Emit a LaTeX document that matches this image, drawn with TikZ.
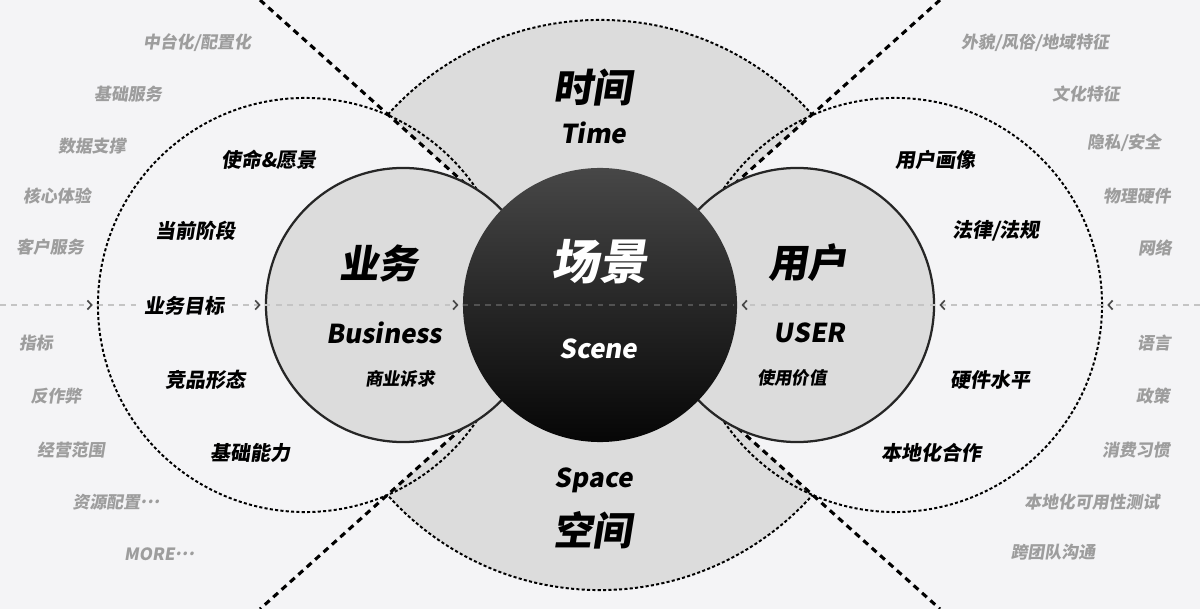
\documentclass[tikz,border=0pt]{standalone}
\usepackage{fontspec}
\usetikzlibrary{arrows.meta}
\newfontfamily\zh{Noto Sans CJK SC}
\newcommand{\midots}{\raisebox{0.3em}{.\kern0.04em.\kern0.04em.}}
\definecolor{bgcol}{HTML}{F4F4F6}
\definecolor{fillgray}{HTML}{DCDCDC}
\definecolor{labelgray}{HTML}{9D9D9D}
\definecolor{axisgray}{HTML}{C4C4C4}
\definecolor{tipgray}{HTML}{4A4A4A}
\definecolor{coretop}{HTML}{474747}
\definecolor{corebot}{HTML}{060606}

\tikzset{
  ring/.style={circle, draw=black, line width=1.4pt, dash pattern=on 2.2pt off 1.6pt, minimum size=10.35cm},
  side/.style={circle, draw=black!85, line width=1.6pt, fill=fillgray, minimum size=6.85cm},
  core/.style={circle, top color=coretop, bottom color=corebot, minimum size=6.85cm},
  crossline/.style={line width=2.2pt, dash pattern=on 4.5pt off 3.5pt},
  arcline/.style={line width=1.4pt, dash pattern=on 2.2pt off 1.6pt},
  axis/.style={draw=axisgray, line width=0.9pt, dash pattern=on 4pt off 4pt, shorten >=3pt,
    -{Straight Barb[length=3pt, width=6.5pt, line width=1.2pt, color=tipgray]}},
  lean/.style={xslant=0.16},
  bigzh/.style={lean, font=\zh\bfseries\fontsize{28}{30}\selectfont},
  corezh/.style={lean, font=\zh\bfseries\fontsize{34}{36}\selectfont, text=white},
  entext/.style={lean, font=\zh\bfseries\fontsize{18.5}{20}\selectfont},
  subzh/.style={lean, font=\zh\bfseries\fontsize{12.4}{14}\selectfont},
  ringlabel/.style={lean, font=\zh\bfseries\fontsize{14.2}{16}\selectfont},
  farlabel/.style={lean, font=\zh\bfseries\fontsize{12}{14}\selectfont, text=labelgray}
}

\begin{document}
\begin{tikzpicture}[x=0.025cm, y=-0.025cm]
\useasboundingbox (0,0) rectangle (1200,609);
\fill[bgcol] (0,0) rectangle (1200,609);

% ends of the cross
\coordinate (tl) at (260,0);
\coordinate (tr) at (940,0);
\coordinate (bl) at (260,609);
\coordinate (br) at (940,609);

% time and space sectors
\begin{scope}
  \clip (tl) -- (tr) -- (bl) -- (br) -- cycle;
  \fill[fillgray] (600,305) circle[radius=7.125cm];
  \draw[arcline] (600,305) circle[radius=7.125cm];
\end{scope}
\draw[crossline] (tl) -- (br);
\draw[crossline] (tr) -- (bl);

% outer rings
\node[ring] (bizring) at (305,305) {};
\node[ring] (userring) at (895,305) {};

% circles
\node[side] (biz) at (403,305) {};
\node[side] (user) at (797,305) {};
\node[core] (scene) at (600,305) {};

% axis
\coordinate (axl) at (0,305);
\coordinate (axr) at (1200,305);
\draw[axis] (axl) -- (bizring.west);
\draw[axis] (bizring.west) -- (biz.west);
\draw[axis] (biz.west) -- (scene.west);
\draw[axis, -, draw=black!68] (scene.west) -- (scene.east);
\draw[axis] (axr) -- (userring.east);
\draw[axis] (userring.east) -- (user.east);
\draw[axis] (user.east) -- (scene.east);

% centre
\node[corezh] (scenezh) at (602,262) {场景};
\node[entext, text=white] (sceneen) at (600,349) {Scene};

% time / space
\node[bigzh] (timezh) at (595,88) {时间};
\node[entext] (timeen) at (595,133) {Time};
\node[entext] (spaceen) at (595,480) {Space};
\node[bigzh] (spacezh) at (595,530) {空间};

% business
\node[bigzh] (bizzh) at (381,263) {业务};
\node[entext] (bizen) at (386,333) {Business};
\node[subzh] (bizsub) at (401,379) {商业诉求};

% user
\node[bigzh] (userzh) at (810,263) {用户};
\node[entext] (useren) at (811,333) {USER};
\node[subzh] (usersub) at (793,378) {使用价值};

% business ring
\node[ringlabel] (mission) at (270,160) {使命\&愿景};
\node[ringlabel] (stage) at (197,231) {当前阶段};
\node[ringlabel, fill=bgcol] (goal) at (186,306) {业务目标};
\node[ringlabel] (rival) at (207,380) {竞品形态};
\node[ringlabel] (ability) at (252,453) {基础能力};

% user ring
\node[ringlabel] (persona) at (937,160) {用户画像};
\node[ringlabel] (law) at (997,231) {法律/法规};
\node[ringlabel] (hardware) at (992,380) {硬件水平};
\node[ringlabel] (partner) at (933,453) {本地化合作};

% outer left
\node[farlabel] (midplat) at (198,43) {中台化/配置化};
\node[farlabel] (basesvc) at (129,94) {基础服务};
\node[farlabel] (data) at (93,146) {数据支撑};
\node[farlabel] (coreexp) at (58,196) {核心体验};
\node[farlabel] (custsvc) at (51,247) {客户服务};
\node[farlabel] (metric) at (37,343) {指标};
\node[farlabel] (antifraud) at (57,396) {反作弊};
\node[farlabel] (scope) at (72,450) {经营范围};
\node[farlabel] (resource) at (117,502) {资源配置\midots};
\node[farlabel] (more) at (160,554) {MORE\midots};

% outer right
\node[farlabel] (looks) at (1036,43) {外貌/风俗/地域特征};
\node[farlabel] (culture) at (1087,94) {文化特征};
\node[farlabel] (privacy) at (1125,143) {隐私/安全};
\node[farlabel] (device) at (1138,196) {物理硬件};
\node[farlabel] (network) at (1156,248) {网络};
\node[farlabel] (language) at (1155,343) {语言};
\node[farlabel] (policy) at (1154,396) {政策};
\node[farlabel] (habit) at (1137,450) {消费习惯};
\node[farlabel] (l10ntest) at (1093,502) {本地化可用性测试};
\node[farlabel] (crossteam) at (1054,552) {跨团队沟通};
\end{tikzpicture}
\end{document}
